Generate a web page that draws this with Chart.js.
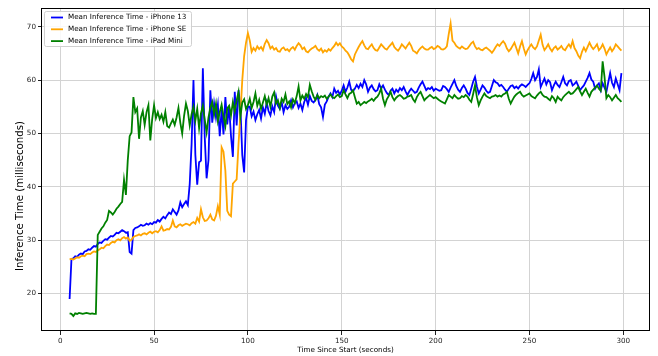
<!DOCTYPE html>
<html lang="en">
<head>
<meta charset="UTF-8">
<title>Mean Inference Time</title>
<style>
  body { margin: 0; background: #fff; }
  #chart-box { width: 658px; height: 356px; }
</style>
</head>
<body>
<div id="chart-box"><canvas id="inferenceChart" width="658" height="356"></canvas></div>

<script src="https://cdn.jsdelivr.net/npm/chart.js"></script>
<script>
// one sample per second, starting at 5 s
const firstSecond = 5;

const iphone13 = [
  19.0,
  26.5, 26.6, 27.0, 26.9, 27.3, 27.5, 27.4, 27.9, 28.0, 28.3, 28.2, 28.6, 28.9, 28.8, 29.3,
  29.6, 29.5, 29.9, 30.2, 30.1, 30.5, 30.8, 30.7, 31.0, 31.4, 31.3, 31.6, 31.9,
  31.7, 31.4, 31.5, 27.8, 27.5, 31.9, 32.3,
  32.4, 32.6, 32.9, 32.7, 32.8, 33.1, 32.9, 33.2, 33.0, 33.4,
  33.3, 33.8, 33.5, 34.0, 34.4, 34.1, 34.7, 35.2, 34.9, 35.8, 35.3, 34.8, 35.6, 37.1, 36.2, 36.8, 37.3, 36.6, 40.5,
  48.0, 60.0, 46.0, 40.4, 44.6, 44.9, 62.2, 49.3, 41.6, 45.0, 58.1, 52.0, 55.6, 53.0, 55.4, 49.5,
  54.5, 49.8, 56.8, 51.7, 55.0, 49.5, 45.6, 57.8, 51.5, 58.1, 55.0, 46.0, 42.7, 52.5, 55.0,
  55.0, 53.2, 54.1, 52.5, 53.6, 54.4, 52.8, 54.9, 53.7, 55.8, 54.2, 53.4, 55.1, 54.0, 56.9, 55.2, 54.6, 55.9, 54.0, 55.3,
  54.6, 55.0, 56.2, 54.9, 55.7, 56.0, 54.8, 55.6, 54.4, 55.9, 56.7, 55.4, 57.0, 56.1, 55.8, 56.3, 57.2, 55.5, 54.9, 53.1,
  55.4, 56.0, 56.9, 57.5, 56.8, 58.4, 57.6, 58.0, 57.3, 58.0,
  59.0, 57.8, 58.6, 59.7, 58.2, 57.9, 58.4, 59.1, 58.5, 59.3, 58.7, 60.0, 59.2, 57.8, 58.6, 59.0, 58.3, 57.9, 58.1, 59.2,
  58.4, 59.0, 58.2, 57.6, 57.2, 58.0, 58.4, 57.5, 58.2, 57.8, 58.5, 58.1, 58.7, 57.9, 57.2, 57.9, 58.4, 58.0, 57.6, 57.8,
  58.6, 59.2, 59.7, 58.9, 58.1, 58.5, 58.3, 58.7, 58.0, 58.4, 58.2, 58.0, 58.1, 58.9, 58.7, 58.3, 57.8,
  58.6, 59.3, 60.0, 58.9, 58.2, 57.8, 58.5, 59.0, 58.4, 57.6, 57.2, 58.4, 59.7, 60.6, 58.8, 57.5, 58.2, 59.0, 58.6, 58.0,
  57.6, 57.8, 58.9, 60.0, 59.6, 59.4, 58.9, 59.1, 58.7, 58.2, 57.8, 58.4, 58.9, 59.0, 58.5, 58.8, 58.4, 58.9, 59.2, 59.0,
  58.7, 59.1, 59.4, 60.2, 61.3, 60.0, 60.6, 62.0, 58.7, 59.5, 60.3, 59.2, 60.0, 59.6,
  58.1, 59.0, 59.7, 59.1, 58.7, 59.6, 60.6, 59.4, 59.0, 59.8, 60.0, 59.0, 59.3, 59.7, 58.9, 58.1, 58.6, 59.0, 59.7,
  60.4, 61.3, 60.1, 59.7, 58.4, 59.0, 59.4, 58.1, 59.4, 58.6, 57.8, 59.6, 61.3, 59.5, 58.7, 60.3, 59.2, 58.1, 61.3
];

const iphoneSE = [
  26.4,
  26.5, 26.4, 26.6, 26.8, 26.7, 27.0, 27.1, 27.0, 27.4, 27.5, 27.4, 27.7, 27.9, 27.8, 28.1,
  28.3, 28.6, 28.5, 28.9, 29.2, 29.1, 29.5, 29.7, 29.6, 30.0, 30.2, 30.0, 30.4, 30.6, 30.3,
  30.5, 29.9, 30.1, 30.6, 30.8,
  30.9, 31.1, 30.9, 31.2, 31.3, 31.1, 31.4, 31.6, 31.3, 31.6,
  31.7, 31.5, 31.9, 32.6, 31.8, 31.9, 32.1, 32.0, 32.5, 33.7, 32.6, 32.4, 32.8, 33.0, 32.7, 32.9, 33.1,
  33.0, 32.8, 33.2, 33.4, 33.1, 34.2, 33.5, 35.8, 34.3, 33.6, 33.7, 34.1, 34.8, 33.9, 33.7, 34.6, 36.4,
  34.8, 47.4, 46.6, 43.0, 35.5, 34.8, 34.5, 40.6, 41.0, 41.4, 48.0, 53.5, 60.0, 64.5, 67.0, 68.8,
  67.4, 65.3, 66.0, 65.5, 66.3, 65.8, 66.2, 65.6, 66.8, 67.5, 66.9, 65.9, 66.3, 65.7, 66.0, 65.4, 65.3, 65.9, 66.1, 65.6,
  65.8, 65.4, 65.9, 66.2, 65.7, 66.4, 66.9, 66.5, 65.8, 66.1, 65.4, 65.2, 65.6, 65.9, 66.1, 66.4, 65.8, 65.5, 65.9, 65.2,
  65.6, 65.3, 65.8, 65.5, 66.0, 66.4, 67.0, 66.5, 66.9, 66.3,
  66.0, 65.5, 65.2, 64.6, 63.9, 63.5, 64.8, 65.5, 66.2, 66.8, 67.3, 66.5, 65.9, 65.8, 66.3, 66.7, 66.0, 65.6, 65.5, 66.1,
  66.7, 66.3, 65.9, 65.7, 66.2, 66.6, 67.0, 66.2, 65.8, 65.5, 66.0, 66.7, 66.3, 65.9, 66.5, 67.0, 66.4, 65.5, 65.3, 65.0,
  65.6, 66.0, 66.3, 65.9, 65.7, 65.7, 66.0, 66.2, 65.8, 66.0, 66.4, 66.2, 65.8, 65.7, 65.9, 66.3,
  68.6, 70.6, 67.4, 67.0, 66.4, 66.1, 65.9, 66.3, 66.0, 65.8, 65.9, 66.4, 66.9, 67.2, 66.3, 65.8, 66.0, 65.7, 65.6, 65.9,
  66.1, 65.8, 65.5, 65.1, 65.6, 66.2, 66.7, 66.4, 66.9, 67.3, 66.8, 65.9, 65.4, 65.8, 66.4, 67.0, 66.0, 65.0, 66.3, 67.3,
  65.9, 64.8, 65.6, 66.2, 66.7, 66.1, 65.8, 66.3, 67.4, 68.5, 66.6, 65.6, 66.1, 66.7, 65.9,
  65.4, 66.0, 66.3, 65.7, 66.0, 66.4, 65.8, 65.6, 66.2, 66.7, 66.1, 67.3, 66.0, 65.4, 64.6, 64.1, 65.3, 66.1, 65.4,
  66.2, 67.0, 66.3, 65.8, 66.2, 66.7, 65.6, 66.0, 66.7, 65.9, 64.8, 65.5, 66.1, 65.4, 65.9, 66.7, 66.3, 65.9, 65.5
];

const ipadMini = [
  16.3, 16.2, 15.8, 16.3, 16.2, 16.4, 16.3, 16.2, 16.3, 16.4, 16.3, 16.2, 16.3, 16.2, 16.2,
  31.0, 31.6, 32.2, 32.6, 33.3, 33.8, 35.5, 35.2, 34.8, 35.3, 35.9, 36.3, 36.8,
  37.2, 41.3, 38.5, 45.0, 49.5, 50.2, 56.8, 54.0, 54.7, 49.0, 53.0, 54.2, 51.6, 54.0, 55.3,
  48.7, 52.7, 55.3, 52.9, 54.0, 52.7, 53.5, 52.2, 54.0, 51.4, 51.1, 51.9, 52.6, 51.6,
  53.0, 54.8, 52.0, 50.0, 53.3, 55.6, 54.2, 51.5, 53.6, 55.0, 52.4, 54.6, 51.0, 53.8, 55.2, 52.6, 50.2, 53.0, 54.8,
  55.9, 53.5, 55.6, 52.3, 54.0, 55.4, 53.2, 51.4, 54.7, 55.2, 53.4, 55.9, 54.1, 56.2, 57.8, 53.1, 55.8, 56.4, 54.6, 55.3,
  56.5, 54.8, 55.9, 57.5, 55.2, 56.3, 54.6, 55.8, 57.0, 55.4, 56.6, 55.0, 56.9, 57.7, 55.6, 56.2, 54.8, 56.5, 55.9, 57.3,
  55.5, 56.0, 54.9, 56.4, 55.7, 57.0, 58.8, 56.2, 57.1, 56.5, 57.4, 56.8, 59.1, 57.9, 56.9, 56.3, 57.2, 56.6, 57.0, 56.8,
  57.1, 56.5, 56.9, 57.3, 56.8, 56.6, 57.0, 57.3, 56.8, 57.0,
  58.1, 57.3, 56.6, 57.4, 57.6, 58.1, 56.8, 55.6, 55.9, 55.3, 55.6, 55.9, 55.7, 56.0, 56.2, 56.5, 56.1, 56.6, 56.9, 57.5,
  58.4, 56.5, 55.3, 56.4, 57.0, 57.8, 56.8, 56.2, 56.7, 57.0, 57.2, 56.9, 56.5, 56.6, 56.9, 57.0, 57.2, 56.4, 55.9, 56.8,
  57.4, 57.8, 57.0, 56.2, 56.6, 56.9, 57.2, 56.9, 56.6, 56.8, 56.5, 56.2, 56.0, 55.8, 55.6, 56.4, 57.2,
  56.9, 56.6, 57.2, 56.8, 56.5, 56.6, 57.0, 56.8, 57.2, 56.9, 56.3, 55.9, 57.4, 59.0, 56.8, 55.3, 56.2, 56.9, 57.5, 57.0,
  56.8, 56.6, 56.9, 57.0, 57.2, 56.9, 57.1, 56.9, 57.3, 57.5, 57.8, 56.5, 55.6, 56.3, 56.9, 57.3, 57.6, 57.8, 57.2, 56.9,
  57.1, 57.3, 57.5, 57.0, 56.8, 56.6, 57.1, 57.5, 57.8, 57.2, 56.9, 56.8, 56.5, 56.2,
  57.0, 56.6, 55.9, 56.9, 56.5, 56.2, 56.8, 57.2, 57.5, 57.8, 57.4, 57.5, 57.9, 58.3, 58.7, 57.9, 57.2, 57.8, 58.4,
  57.6, 56.9, 57.8, 58.2, 58.6, 59.0, 58.4, 58.0, 63.5, 60.6, 56.6, 57.2, 56.8, 56.2, 56.7, 57.2, 56.6, 56.3, 55.9
];

const seriesNames = [
  'Mean Inference Time - iPhone 13',
  'Mean Inference Time - iPhone SE',
  'Mean Inference Time - iPad Mini'
];
const seriesColors = ['#0000ff', '#ffa500', '#008000'];
const yTitle = 'Inference Time (milliseconds)';

const xTicks = [0, 50, 100, 150, 200, 250, 300];
const yTicks = [20, 30, 40, 50, 60, 70];

function toPoints(values) {
  return values.map((v, i) => ({ x: firstSecond + i, y: v }));
}

Chart.defaults.font.family = "'DejaVu Sans', sans-serif";
Chart.defaults.font.size = 7.2;
Chart.defaults.color = '#222';

// black frame, boxed legend in the upper left corner, and the rotated y title
const frameAndLegend = {
  id: 'frameAndLegend',
  afterDatasetsDraw(chart) {
    const { ctx, chartArea: a } = chart;
    ctx.save();
    ctx.strokeStyle = '#000';
    ctx.lineWidth = 1;
    ctx.strokeRect(Math.round(a.left) - 0.5, Math.round(a.top) + 0.5,
                   Math.round(a.right - a.left) + 1, Math.round(a.bottom - a.top) - 1);

    const bx = 44.5, by = 11.5, bw = 147, bh = 35;
    ctx.beginPath();
    ctx.roundRect(bx, by, bw, bh, 2);
    ctx.fillStyle = 'rgba(255,255,255,0.85)';
    ctx.fill();
    ctx.strokeStyle = '#d0d0d0';
    ctx.stroke();

    ctx.font = "7.2px 'DejaVu Sans', sans-serif";
    ctx.textBaseline = 'middle';
    chart.data.datasets.forEach((ds, i) => {
      const y = 17.5 + i * 11.8;
      ctx.beginPath();
      ctx.moveTo(51, y);
      ctx.lineTo(63, y);
      ctx.strokeStyle = ds.borderColor;
      ctx.lineWidth = 1.8;
      ctx.stroke();
      ctx.fillStyle = '#000';
      ctx.fillText(ds.label, 68, y);
    });

    ctx.translate(20, 196);
    ctx.rotate(-Math.PI / 2);
    ctx.font = "10.2px 'DejaVu Sans', sans-serif";
    ctx.textAlign = 'center';
    ctx.fillText(yTitle, 0, 0);
    ctx.restore();
  }
};

const ctx = document.getElementById('inferenceChart').getContext('2d');
const inferenceChart = new Chart(ctx, {
  type: 'line',
  data: {
    datasets: [
      { label: seriesNames[0], data: toPoints(iphone13), borderColor: seriesColors[0], order: 3 },
      { label: seriesNames[1], data: toPoints(iphoneSE), borderColor: seriesColors[1], order: 2 },
      { label: seriesNames[2], data: toPoints(ipadMini), borderColor: seriesColors[2], order: 1 }
    ]
  },
  options: {
    responsive: false,
    animation: false,
    devicePixelRatio: 1,
    layout: { padding: { left: 0, right: 9, top: 8, bottom: 0 } },
    elements: {
      line: { borderWidth: 1.8, tension: 0, fill: false },
      point: { radius: 0 }
    },
    plugins: {
      legend: { display: false },
      tooltip: { enabled: false }
    },
    scales: {
      x: {
        type: 'linear',
        min: -9.7,
        max: 313.7,
        afterBuildTicks: axis => { axis.ticks = xTicks.map(v => ({ value: v })); },
        afterFit: axis => { axis.height = 25; },
        border: { display: false },
        grid: { color: '#d3d3d3', lineWidth: 1, tickColor: '#222', tickLength: 4 },
        ticks: { autoSkip: false, maxRotation: 0, padding: 2 },
        title: {
          display: true,
          text: 'Time Since Start (seconds)',
          color: '#000',
          padding: { top: 0, bottom: 2 }
        }
      },
      y: {
        type: 'linear',
        min: 13.0,
        max: 73.5,
        afterBuildTicks: axis => { axis.ticks = yTicks.map(v => ({ value: v })); },
        afterFit: axis => { axis.width = 42; },
        border: { display: false },
        grid: { color: '#d3d3d3', lineWidth: 1, tickColor: '#222', tickLength: 4 },
        ticks: { autoSkip: false, padding: 2 }
      }
    }
  },
  plugins: [frameAndLegend]
});
</script>
</body>
</html>
